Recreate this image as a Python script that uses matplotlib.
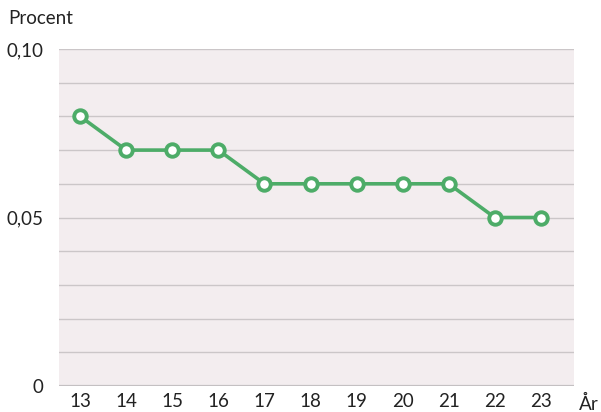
import matplotlib
matplotlib.use("Agg")
import matplotlib.pyplot as plt

years = [13, 14, 15, 16, 17, 18, 19, 20, 21, 22, 23]
values = [0.08, 0.07, 0.07, 0.07, 0.06, 0.06, 0.06, 0.06, 0.06, 0.05, 0.05]
ytick_vals = [0, 0.05, 0.10]
ytick_labels = ["0", "0,05", "0,10"]

plt.rcParams['font.family'] = ['Lato', 'DejaVu Sans']

fig = plt.figure(figsize=(6.01, 4.12), dpi=100)
ax = fig.add_axes([59/601, 26/412, (574-59)/601, (386-49)/412])
ax.set_facecolor('#f3edef')

for y in [i/100 for i in range(1, 11)]:
    ax.axhline(y, color='#cbc6c8', lw=1.0, zorder=1)
ax.axhline(0, color='#c4c0c2', lw=1.6, zorder=1)

ax.plot(years, values, color='#4dac68', lw=2.6, marker='o', markersize=9,
        markerfacecolor='white', markeredgecolor='#4dac68', markeredgewidth=2.8, zorder=3)

ax.set_xlim(12.54, 23.72)
ax.set_ylim(0, 0.10)
ax.set_xticks(years)
ax.set_xticklabels([str(y) for y in years])
ax.set_yticks(ytick_vals)
ax.set_yticklabels(ytick_labels)
for s in ax.spines.values():
    s.set_visible(False)
ax.tick_params(length=0, labelsize=13.5, colors='#222222')
ax.tick_params(axis='x', pad=5)
ax.tick_params(axis='y', pad=11)

fig.text(8/601, 1 - 19/412, "Procent", fontsize=13.5, color='#222222', va='center', ha='left')
fig.text(589/601, 1 - 404/412, "År", fontsize=13.5, color='#222222', va='center', ha='center')

fig.savefig("out.png", dpi=100)
